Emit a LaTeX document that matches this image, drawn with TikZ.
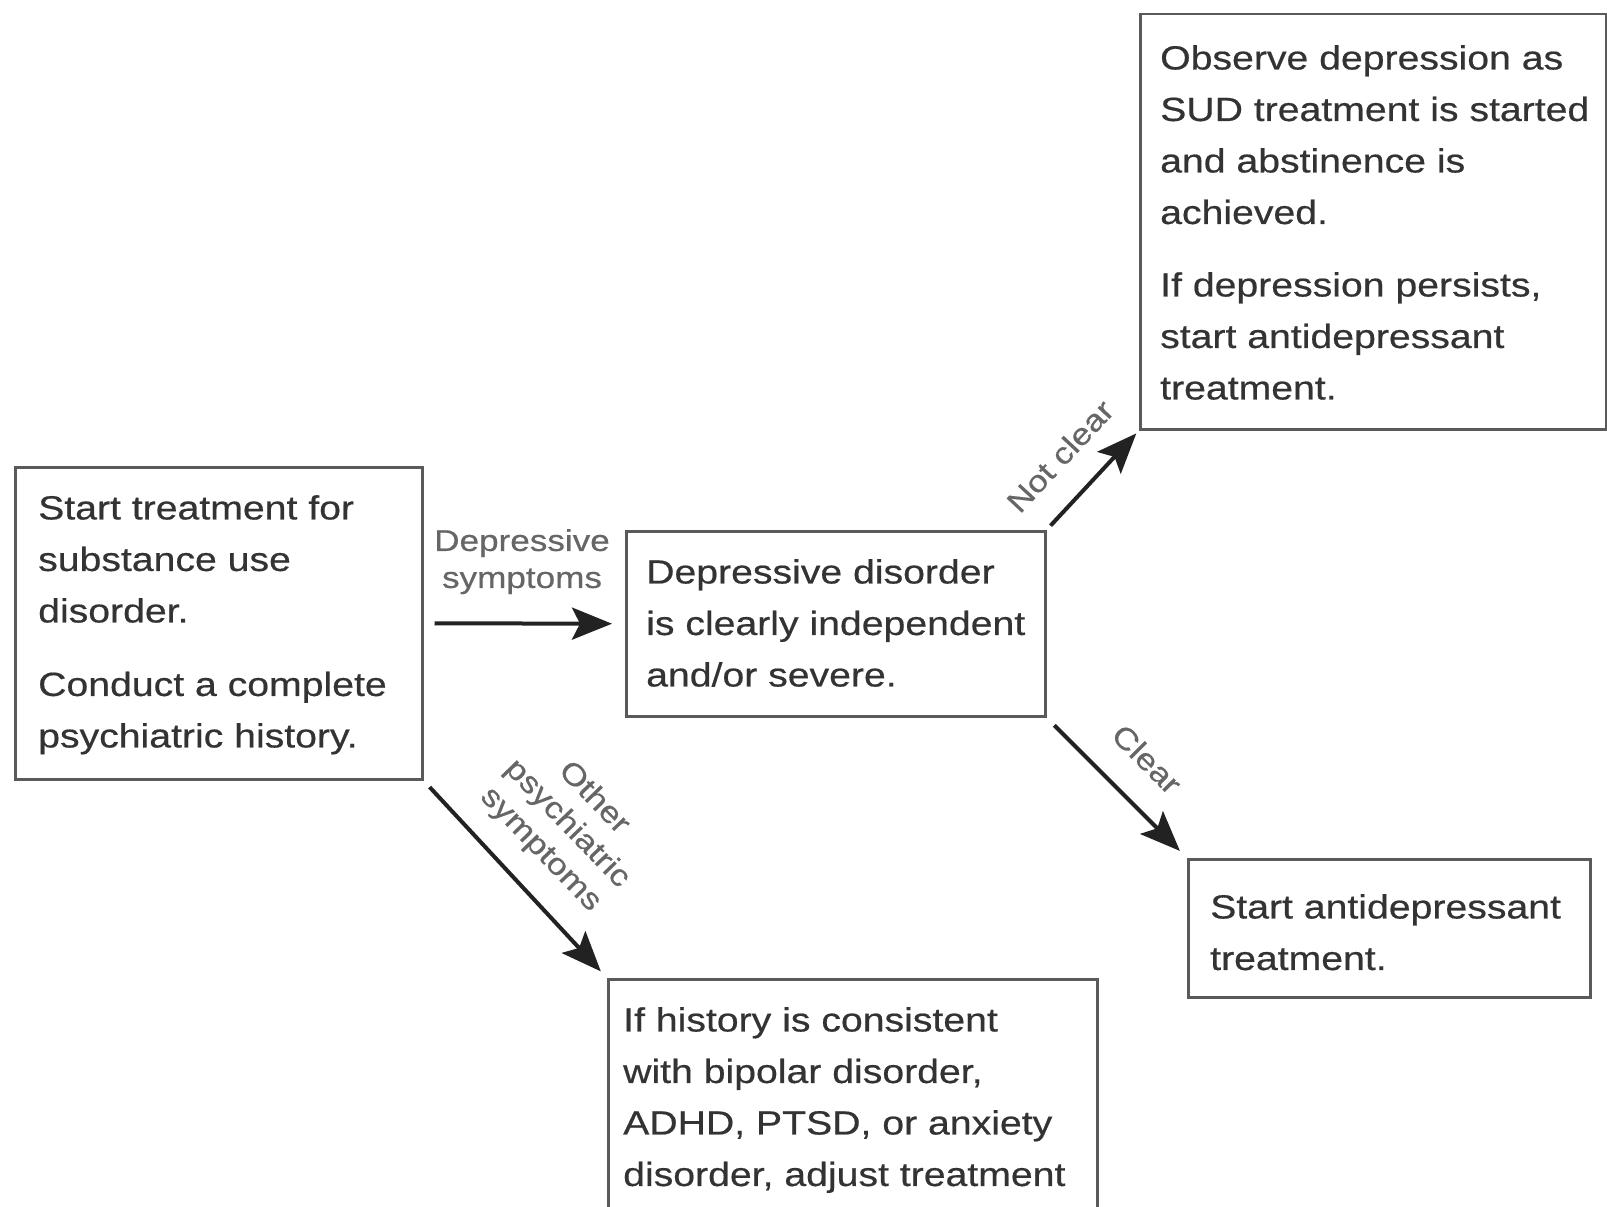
\documentclass[tikz,border=0pt]{standalone}
\usepackage{fontspec}
\setmainfont{Liberation Sans}[FakeStretch=1.17,FakeBold=0.5]
\usetikzlibrary{arrows.meta}
\definecolor{txtc}{HTML}{333333}
\definecolor{lblc}{HTML}{666666}
\definecolor{frmc}{HTML}{5A5A5A}
\definecolor{arrc}{HTML}{222222}
\begin{document}
\begin{tikzpicture}[x=1pt,y=-1pt,
  frame/.style={draw=frmc,line width=2.5pt,inner sep=0pt,anchor=north west},
  body/.style={text=txtc,font=\fontsize{33.5}{51.5}\selectfont,align=left,inner sep=0pt,anchor=north west},
  lab/.style={text=lblc,font=\fontsize{30}{37}\selectfont,align=center,inner sep=0pt},
  conn/.style={draw=arrc,line width=4pt,-{Stealth[length=40pt,width=32pt,inset=8pt]}}]
\useasboundingbox (0,0) rectangle (1607,1207);
\clip (0,0) rectangle (1607,1207);
\fill[white] (0,0) rectangle (1607,1207);
% boxes
\node[frame,minimum width=407pt,minimum height=312pt] (b1) at (14,466) {};
\node[frame,minimum width=419pt,minimum height=185pt] (b2) at (625,530) {};
\node[frame,minimum width=466pt,minimum height=415pt] (b3) at (1139,13) {};
\node[frame,minimum width=402pt,minimum height=138pt] (b4) at (1187,858) {};
\node[frame,minimum width=489pt,minimum height=300pt] (b5) at (607,978) {};
% texts
\node[body] (t1) at (38,495) {Start treatment for\\substance use\\disorder.\\[22pt]Conduct a complete\\psychiatric history.};
\node[body] (t2) at (646,559) {Depressive disorder\\is clearly independent\\and/or severe.};
\node[body] (t3) at (1160,45) {Observe depression as\\SUD treatment is started\\and abstinence is\\achieved.\\[21pt]If depression persists,\\start antidepressant\\treatment.};
\node[body] (t4) at (1210,894) {Start antidepressant\\treatment.};
\node[body] (t5) at (623,1007) {If history is consistent\\with bipolar disorder,\\ADHD, PTSD, or anxiety\\disorder, adjust treatment};
% connectors
\draw[conn,shorten <=11pt,shorten >=13pt] (b1.east) -- (b2.west);
\draw[conn,shorten <=9pt,shorten >=9pt] (b1.south east) -- (b5.north west);
\draw[conn,shorten <=6pt,shorten >=4pt] (b2.north east) -- (b3.south west);
\draw[conn,shorten <=11pt,shorten >=10pt] (b2.south east) -- (b4.north west);
% labels
\node[lab,anchor=north] (l1) at (522,529) {Depressive\\symptoms};
\node[lab,rotate=47] (l2) at (1060,456) {Not clear};
\node[lab,rotate=-45] (l3) at (1147,759) {Clear};
\node[lab,rotate=-46] (l4) at (567,824) {Other\\psychiatric\\symptoms};
\end{tikzpicture}
\end{document}
